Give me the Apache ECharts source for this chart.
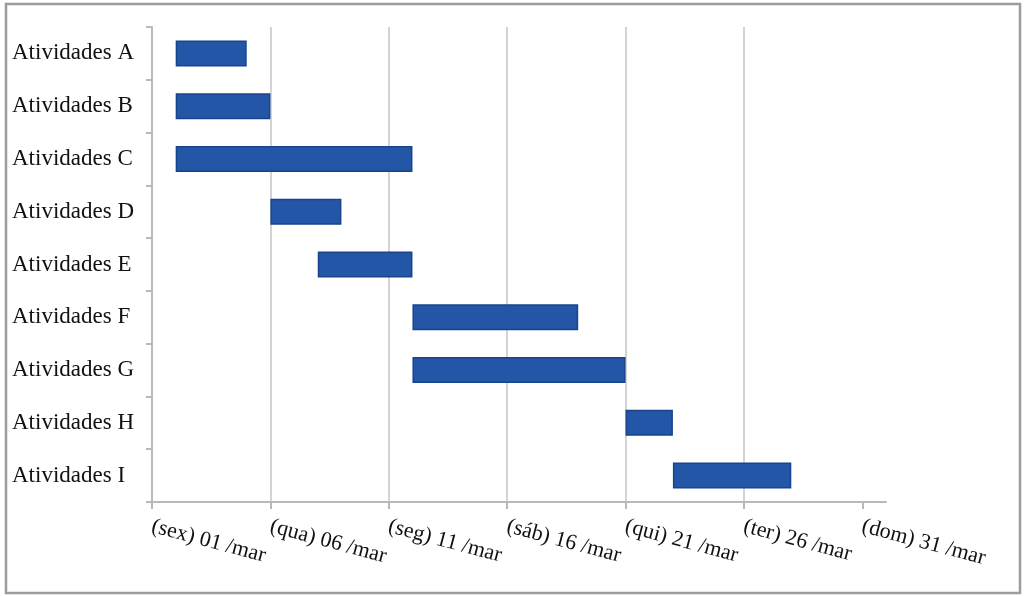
<!DOCTYPE html>
<html>
<head>
<meta charset="utf-8">
<title>Cronograma de atividades</title>
<script src="https://cdn.jsdelivr.net/npm/echarts@6/dist/echarts.min.js"></script>
<style>
  html, body { margin: 0; padding: 0; background: #ffffff; }
  #chart { width: 1027px; height: 596px; }
</style>
</head>
<body>
<div id="chart"></div>
<script>
// Activities and their start / end days (day of March)
const activities = ['Atividades A', 'Atividades B', 'Atividades C', 'Atividades D', 'Atividades E',
                    'Atividades F', 'Atividades G', 'Atividades H', 'Atividades I'];
const startDay = [2, 2, 2, 6, 8, 12, 12, 21, 23];
const endDay   = [5, 6, 12, 9, 12, 19, 21, 23, 28];

// Date ticks along the time axis
const tickDays   = [1, 6, 11, 16, 21, 26, 31];
const tickLabels = ['(sex) 01 /mar', '(qua) 06 /mar', '(seg) 11 /mar', '(sáb) 16 /mar',
                    '(qui) 21 /mar', '(ter) 26 /mar', '(dom) 31 /mar'];

// Axis values are days elapsed since 01/mar
const offsetOf = d => d - 1;
const baseValues = startDay.map(offsetOf);
const durations = startDay.map((s, i) => endDay[i] - s);
const tickOffsets = tickDays.map(offsetOf);

const FONT = '"Liberation Serif", "DejaVu Serif", serif';
const AXIS_COLOR = '#b9b9b9';

const chart = echarts.init(document.getElementById('chart'), null, { renderer: 'canvas' });

chart.setOption({
  animation: false,
  backgroundColor: '#ffffff',
  grid: { left: 152, right: 141, top: 27, bottom: 94, containLabel: false },
  graphic: [{
    type: 'rect',
    shape: { x: 6, y: 4, width: 1014, height: 589 },
    style: { fill: 'none', stroke: '#9c9c9c', lineWidth: 2.5 },
    silent: true,
    z: 100
  }],
  xAxis: {
    type: 'value',
    min: 0,
    max: 31,
    interval: 5,
    axisLine: { show: true, lineStyle: { color: AXIS_COLOR, width: 2 } },
    axisTick: { show: true, length: 7, customValues: tickOffsets, lineStyle: { color: AXIS_COLOR, width: 2 } },
    splitLine: { show: true, showMaxLine: false, lineStyle: { color: '#d4d4d4', width: 2 } },
    axisLabel: {
      customValues: tickOffsets,
      rotate: -15,
      margin: 24,
      color: '#111111',
      fontFamily: FONT,
      fontSize: 22,
      formatter: v => {
        const i = tickOffsets.indexOf(v);
        return i >= 0 ? tickLabels[i] : '';
      }
    }
  },
  yAxis: {
    type: 'category',
    inverse: true,
    data: activities,
    axisLine: { show: true, lineStyle: { color: AXIS_COLOR, width: 2 } },
    axisTick: { show: true, length: 6, lineStyle: { color: AXIS_COLOR, width: 2 } },
    splitLine: { show: false },
    axisLabel: {
      align: 'left',
      margin: 140,
      color: '#111111',
      fontFamily: FONT,
      fontSize: 23
    }
  },
  series: [
    {
      name: 'início',
      type: 'bar',
      stack: 'gantt',
      data: baseValues,
      barWidth: 26,
      itemStyle: { color: 'rgba(0,0,0,0)' },
      silent: true
    },
    {
      name: 'duração',
      type: 'bar',
      stack: 'gantt',
      data: durations,
      barWidth: 26,
      itemStyle: { color: '#2356a6', borderColor: '#18448c', borderWidth: 1.5 }
    }
  ]
});
</script>
</body>
</html>
